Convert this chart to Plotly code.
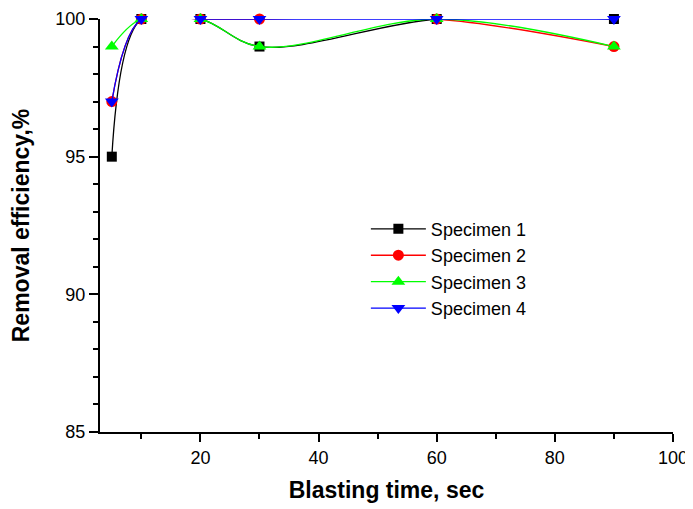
import plotly.graph_objects as go

blasting_time = [5, 10, 20, 30, 60, 90]
specimen_1 = [95, 100, 100, 99, 100, 100]
specimen_2 = [97, 100, 100, 100, 100, 99]
specimen_3 = [99, 100, 100, 99, 100, 99]
specimen_4 = [97, 100, 100, 100, 100, 100]

series_names = ["Specimen 1", "Specimen 2", "Specimen 3", "Specimen 4"]
series_values = [specimen_1, specimen_2, specimen_3, specimen_4]
colors = ["#000000", "#ff0000", "#00ff00", "#0000ff"]
symbols = ["square", "circle", "triangle-up", "triangle-down"]
sizes = [10, 11, 12, 12]

fig = go.Figure()
for name, vals, c, s, sz in zip(series_names, series_values, colors, symbols, sizes):
    fig.add_trace(go.Scatter(
        x=blasting_time, y=vals, name=name, mode="lines+markers",
        line=dict(color=c, width=1.3, shape="spline", smoothing=1.0),
        marker=dict(color=c, symbol=s, size=sz, line=dict(width=0)),
        cliponaxis=False,
    ))

font_family = "Liberation Sans, Arial, sans-serif"
fig.update_layout(
    width=685, height=501,
    margin=dict(l=92, r=20, t=11, b=77),
    paper_bgcolor="white", plot_bgcolor="white",
    font=dict(family=font_family, color="black", size=18),
    showlegend=True,
    legend=dict(x=0.464, y=0.536, xanchor="left", yanchor="top",
                bgcolor="rgba(0,0,0,0)", font=dict(size=18),
                tracegroupgap=0, itemwidth=55),
    xaxis=dict(
        range=[3.0, 100], showgrid=False, zeroline=False, automargin=False,
        showline=True, linecolor="black", linewidth=2,
        ticks="outside", ticklen=8, tickwidth=1.5, tickcolor="black",
        tickvals=[20, 40, 60, 80, 100],
        minor=dict(tickvals=[10, 30, 50, 70, 90], ticks="outside", ticklen=5,
                   tickwidth=1.5, tickcolor="black"),
        tickfont=dict(size=18),
        title=dict(text="<b>Blasting time, sec</b>", font=dict(size=23), standoff=15),
    ),
    yaxis=dict(
        range=[85, 100], showgrid=False, zeroline=False, automargin=False,
        showline=True, linecolor="black", linewidth=2,
        ticks="outside", ticklen=9, tickwidth=1.5, tickcolor="black",
        tickvals=[85, 90, 95, 100],
        minor=dict(dtick=1, ticks="outside", ticklen=5, tickwidth=1.5,
                   tickcolor="black"),
        tickfont=dict(size=18),
        title=dict(text="<b>Removal efficiency,%</b>", font=dict(size=23), standoff=22),
    ),
)

fig.write_html("out.html")
